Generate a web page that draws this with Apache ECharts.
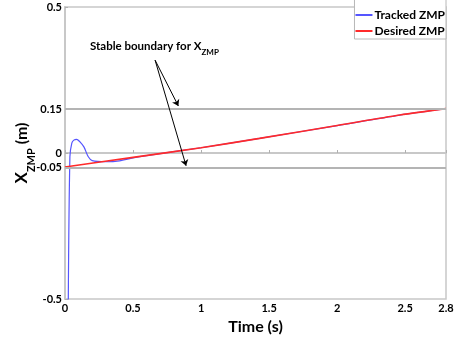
<!DOCTYPE html>
<html><head><meta charset="utf-8">
<script src="https://cdn.jsdelivr.net/npm/echarts@6/dist/echarts.min.js"></script>
<style>html,body{margin:0;padding:0;background:#fff}#c{width:455px;height:339px}</style>
</head><body><div id="c"></div>
<script>
// Tick labels
var xTicks = [0, 0.5, 1, 1.5, 2, 2.5, 2.8];
var yTicks = [-0.5, -0.05, 0, 0.15, 0.5];
// Desired ZMP (red)
var desiredT = [0, 0.5, 1, 1.43, 2, 2.46, 2.8];
var desiredV = [-0.048, -0.015, 0.018, 0.05, 0.094, 0.13, 0.152];
// Tracked ZMP (blue)
var trackedT = [0.024, 0.036, 0.05, 0.065, 0.085, 0.11, 0.14, 0.17, 0.2, 0.3, 0.4, 0.5, 0.6, 1, 1.43, 2, 2.46, 2.8];
var trackedV = [-0.52, -0.013, 0.034, 0.044, 0.047, 0.038, 0.02, -0.012, -0.026, -0.03, -0.027, -0.017, -0.009, 0.018, 0.05, 0.094, 0.13, 0.152];
// Stable boundary lines
var boundaries = [0.15, -0.05];
// Annotation arrows: start and ends (data coords)
var arrowStart = [0.662, 0.318];
var arrowEnds = [[0.833, 0.161], [0.89, -0.044]];

function zip(a, b) { return a.map(function (v, i) { return [v, b[i]]; }); }

var FONT = 'Lato';
var chart = echarts.init(document.getElementById('c'));
chart.setOption({
  animation: false,
  textStyle: { fontFamily: FONT },
  grid: { left: 65, right: 9, top: 7, bottom: 40, containLabel: false, outerBoundsMode: 'none',
    show: true, borderColor: '#c8c8c8', borderWidth: 1.5 },
  legend: {
    right: 9, top: -3, orient: 'vertical', align: 'left', icon: 'rect',
    padding: [12, 1, 2, 1], itemGap: 4, itemWidth: 17, itemHeight: 2,
    backgroundColor: '#fff', borderColor: '#b8b8b8', borderWidth: 1,
    textStyle: { fontFamily: FONT, fontWeight: 'bold', fontSize: 12, lineHeight: 12, color: '#000', padding: [0, 0, 0, -3] },
    data: ['Tracked ZMP', 'Desired ZMP']
  },
  xAxis: {
    type: 'value', min: 0, max: 2.8,
    name: 'Time (s)', nameLocation: 'middle', nameGap: 20,
    nameTextStyle: { fontFamily: FONT, fontWeight: 'bold', fontSize: 16, color: '#000' },
    axisLine: { show: true, lineStyle: { color: '#c8c8c8', width: 2 } },
    axisTick: { show: true, inside: true, length: 3, customValues: xTicks, lineStyle: { color: '#b0b0b0' } },
    axisLabel: { customValues: xTicks, margin: 4, fontFamily: FONT, fontWeight: 'bold', fontSize: 11, color: '#000' },
    splitLine: { show: false }
  },
  yAxis: {
    type: 'value', min: -0.5, max: 0.5,
    name: '{x|X}{s|ZMP}{n| (m)}', nameLocation: 'middle', nameGap: 33, nameRotate: 90,
    nameMoveOverlap: false,
    nameTextStyle: {
      color: '#000',
      rich: {
        x: { fontFamily: FONT, fontWeight: 'bold', fontSize: 17, lineHeight: 20, color: '#000' },
        s: { fontFamily: FONT, fontWeight: 'bold', fontSize: 11, lineHeight: 11, verticalAlign: 'bottom', padding: [0, 0, -5, 0], color: '#000' },
        n: { fontFamily: FONT, fontWeight: 'bold', fontSize: 16, lineHeight: 20, color: '#000' }
      }
    },
    axisLine: { show: true, lineStyle: { color: '#c8c8c8', width: 2 } },
    axisTick: { show: true, inside: true, length: 3, customValues: yTicks, lineStyle: { color: '#b0b0b0' } },
    axisLabel: { customValues: yTicks, margin: 3, fontFamily: FONT, fontWeight: 'bold', fontSize: 11, color: '#000' },
    splitLine: { show: false }
  },
  series: [
    {
      name: 'Tracked ZMP', type: 'line', symbol: 'none', smooth: 0.3,
      data: zip(trackedT, trackedV),
      lineStyle: { color: '#5555ff', width: 1.2 }, itemStyle: { color: '#5555ff' },
      markLine: {
        silent: true, symbol: 'none', animation: false,
        label: { show: false },
        lineStyle: { color: '#b4b4b4', width: 2, type: 'solid' },
        data: boundaries.map(function (b) { return { yAxis: b }; })
      }
    },
    {
      name: 'Desired ZMP', type: 'line', symbol: 'none', smooth: 0.3,
      data: zip(desiredT, desiredV),
      lineStyle: { color: '#ff2a2a', width: 1.6 }, itemStyle: { color: '#ff2a2a' },
      markLine: {
        silent: true, symbol: ['none', 'arrow'], symbolSize: 6, animation: false,
        label: { show: false },
        lineStyle: { color: '#000', width: 1, type: 'solid' },
        data: arrowEnds.map(function (e) { return [{ coord: arrowStart }, { coord: e }]; })
      }
    }
  ],
  graphic: [{
    type: 'text', left: 90, top: 40, silent: true,
    style: {
      text: '{a|Stable boundary for X}{b|ZMP}',
      rich: {
        a: { fontFamily: FONT, fontWeight: 'bold', fontSize: 11.5, lineHeight: 14, fill: '#000' },
        b: { fontFamily: FONT, fontWeight: 'bold', fontSize: 8, lineHeight: 8, verticalAlign: 'bottom', padding: [0, 0, -3, 0], fill: '#000' }
      }
    }
  }]
});
</script></body></html>
